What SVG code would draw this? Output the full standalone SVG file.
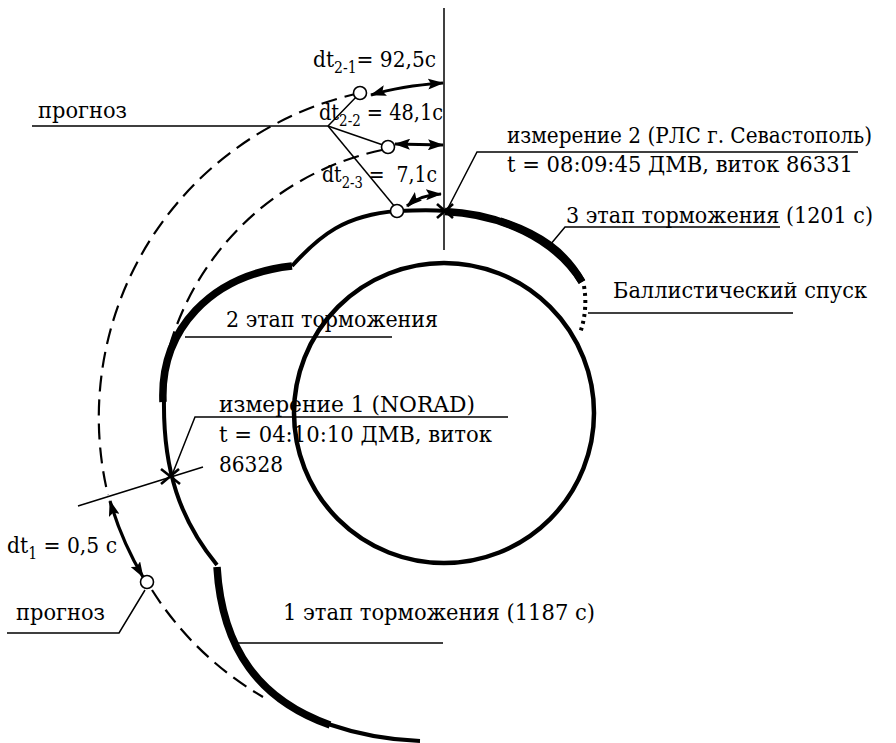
<svg xmlns="http://www.w3.org/2000/svg" width="896" height="743" viewBox="0 0 896 743">
<defs>
<style>
text{font-family:'DejaVu Serif Condensed','Liberation Serif','DejaVu Serif',serif;font-size:23px;fill:#000;white-space:pre}
.sub{font-size:16px}
.thin{fill:none;stroke:#000;stroke-width:1.5}
.traj{fill:none;stroke:#000;stroke-width:4}
.stage{fill:none;stroke:#000;stroke-width:7.5}
.dash{fill:none;stroke:#000;stroke-width:2.2;stroke-dasharray:16 8}
.arr{fill:none;stroke:#000;stroke-width:3.2;marker-start:url(#ah);marker-end:url(#ah)}
.mk{fill:#fff;stroke:#000;stroke-width:1.6}
.x{stroke:#000;stroke-width:2.6}
</style>
<marker id="ah" viewBox="0 0 16 11" refX="15" refY="5.5" markerWidth="16" markerHeight="11" orient="auto-start-reverse" markerUnits="userSpaceOnUse"><path d="M0,0 L16,5.5 L0,11 L3,5.5 z" fill="#000"/></marker>
</defs>
<rect width="896" height="743" fill="#fff"/>

<g id="planet">
<circle cx="444" cy="413" r="150" fill="none" stroke="#000" stroke-width="4.5"/>
</g>

<g id="forecast-arcs">
<path class="dash" d="M360,93 A332,332 0 0 0 108,495"/>
<path class="dash" d="M152,590 A325,325 0 0 0 263,697"/>
<path class="dash" d="M382,150 A282,282 0 0 0 168,352"/>
</g>

<g id="trajectory">
<path class="traj" d="M217,565 C180,520 163,470 164,400"/>
<path class="stage" d="M163,402 C160,330 210,275 292,266"/>
<path class="traj" d="M292,266 C320,235 345,215 397,211"/>
<path class="traj" stroke-width="5" d="M397,211 C420,210 435,210 445,211"/>
<path class="stage" d="M445,211.5 C500,214 555,238 582,282" stroke-width="6.5"/>
<path class="stage" d="M500,221 C540,234 565,252 582,282" stroke-width="8"/>
<path fill="none" stroke="#000" stroke-width="4" stroke-dasharray="3 4" d="M584,286 Q588,310 580,333"/>
<path class="stage" d="M217,567 C222,650 260,700 330,725"/>
<path class="traj" stroke-width="5.5" d="M328,724 C360,735 390,740 420,741"/>
</g>

<g id="connectors">
<line class="thin" x1="444" y1="8" x2="444" y2="250"/>
<line class="thin" x1="78" y1="506" x2="203" y2="467"/>
<path class="arr" d="M371,95 Q400,86 443,83"/>
<path class="arr" d="M395,144 L443,145"/>
<path class="arr" d="M407,206 Q420,195 441,194"/>
<path class="arr" d="M110,501 A332,332 0 0 0 143,577"/>
<polyline class="thin" points="32,126 328,126 360,93"/>
<line class="thin" x1="328" y1="126" x2="383" y2="145"/>
<line class="thin" x1="328" y1="126" x2="395" y2="207"/>
<polyline class="thin" points="858,152 477,152 447,210"/>
<polyline class="thin" points="780,227 565,227 550,245"/>
<line class="thin" x1="588" y1="313" x2="793" y2="313"/>
<line class="thin" x1="185" y1="337" x2="392" y2="337"/>
<polyline class="thin" points="508,417 195,417 172,475"/>
<polyline class="thin" points="7,633 119,633 145,590"/>
<line class="thin" x1="237" y1="643" x2="443" y2="643"/>
</g>

<g id="markers">
<circle class="mk" cx="360" cy="93" r="6.5"/>
<circle class="mk" cx="388" cy="147" r="6.5"/>
<circle class="mk" cx="397" cy="211" r="6.5"/>
<circle class="mk" cx="147" cy="582" r="6.5"/>
</g>

<g id="measurement-2">
<line class="x" x1="437" y1="204" x2="453" y2="218"/>
<line class="x" x1="437" y1="218" x2="453" y2="204"/>
<text x="507" y="143" textLength="365" lengthAdjust="spacingAndGlyphs">измерение 2 (РЛС г. Севастополь)</text>
<text x="507" y="172" textLength="346" lengthAdjust="spacingAndGlyphs">t = 08:09:45 ДМВ, виток 86331</text>
</g>

<g id="measurement-1">
<line class="x" x1="161" y1="469" x2="180" y2="484"/>
<line class="x" x1="161" y1="484" x2="179" y2="469"/>
<text x="219" y="412" textLength="256" lengthAdjust="spacingAndGlyphs">измерение 1 (NORAD)</text>
<text x="219" y="442" textLength="273" lengthAdjust="spacingAndGlyphs">t = 04:10:10 ДМВ, виток</text>
<text x="219" y="472" textLength="64" lengthAdjust="spacingAndGlyphs">86328</text>
</g>

<g id="labels">
<text x="313" y="67" textLength="123" lengthAdjust="spacingAndGlyphs">dt<tspan class="sub" dy="6">2-1</tspan><tspan dy="-6">= 92,5c</tspan></text>
<text x="319" y="120" textLength="124" lengthAdjust="spacingAndGlyphs">dt<tspan class="sub" dy="6">2-2</tspan><tspan dy="-6"> = 48,1c</tspan></text>
<text x="322" y="182" textLength="115" lengthAdjust="spacingAndGlyphs">dt<tspan class="sub" dy="6">2-3</tspan><tspan dy="-6"> =  7,1c</tspan></text>
<text x="38" y="118" textLength="89" lengthAdjust="spacingAndGlyphs">прогноз</text>
<text x="566" y="223" textLength="307" lengthAdjust="spacingAndGlyphs">3 этап торможения (1201 с)</text>
<text x="613" y="298" textLength="254" lengthAdjust="spacingAndGlyphs">Баллистический спуск</text>
<text x="226" y="327" textLength="212" lengthAdjust="spacingAndGlyphs">2 этап торможения</text>
<text x="7" y="553" textLength="110" lengthAdjust="spacingAndGlyphs">dt<tspan class="sub" dy="6">1</tspan><tspan dy="-6"> = 0,5 с</tspan></text>
<text x="16" y="620" textLength="89" lengthAdjust="spacingAndGlyphs">прогноз</text>
<text x="283" y="620" textLength="312" lengthAdjust="spacingAndGlyphs">1 этап торможения (1187 с)</text>
</g>
</svg>
